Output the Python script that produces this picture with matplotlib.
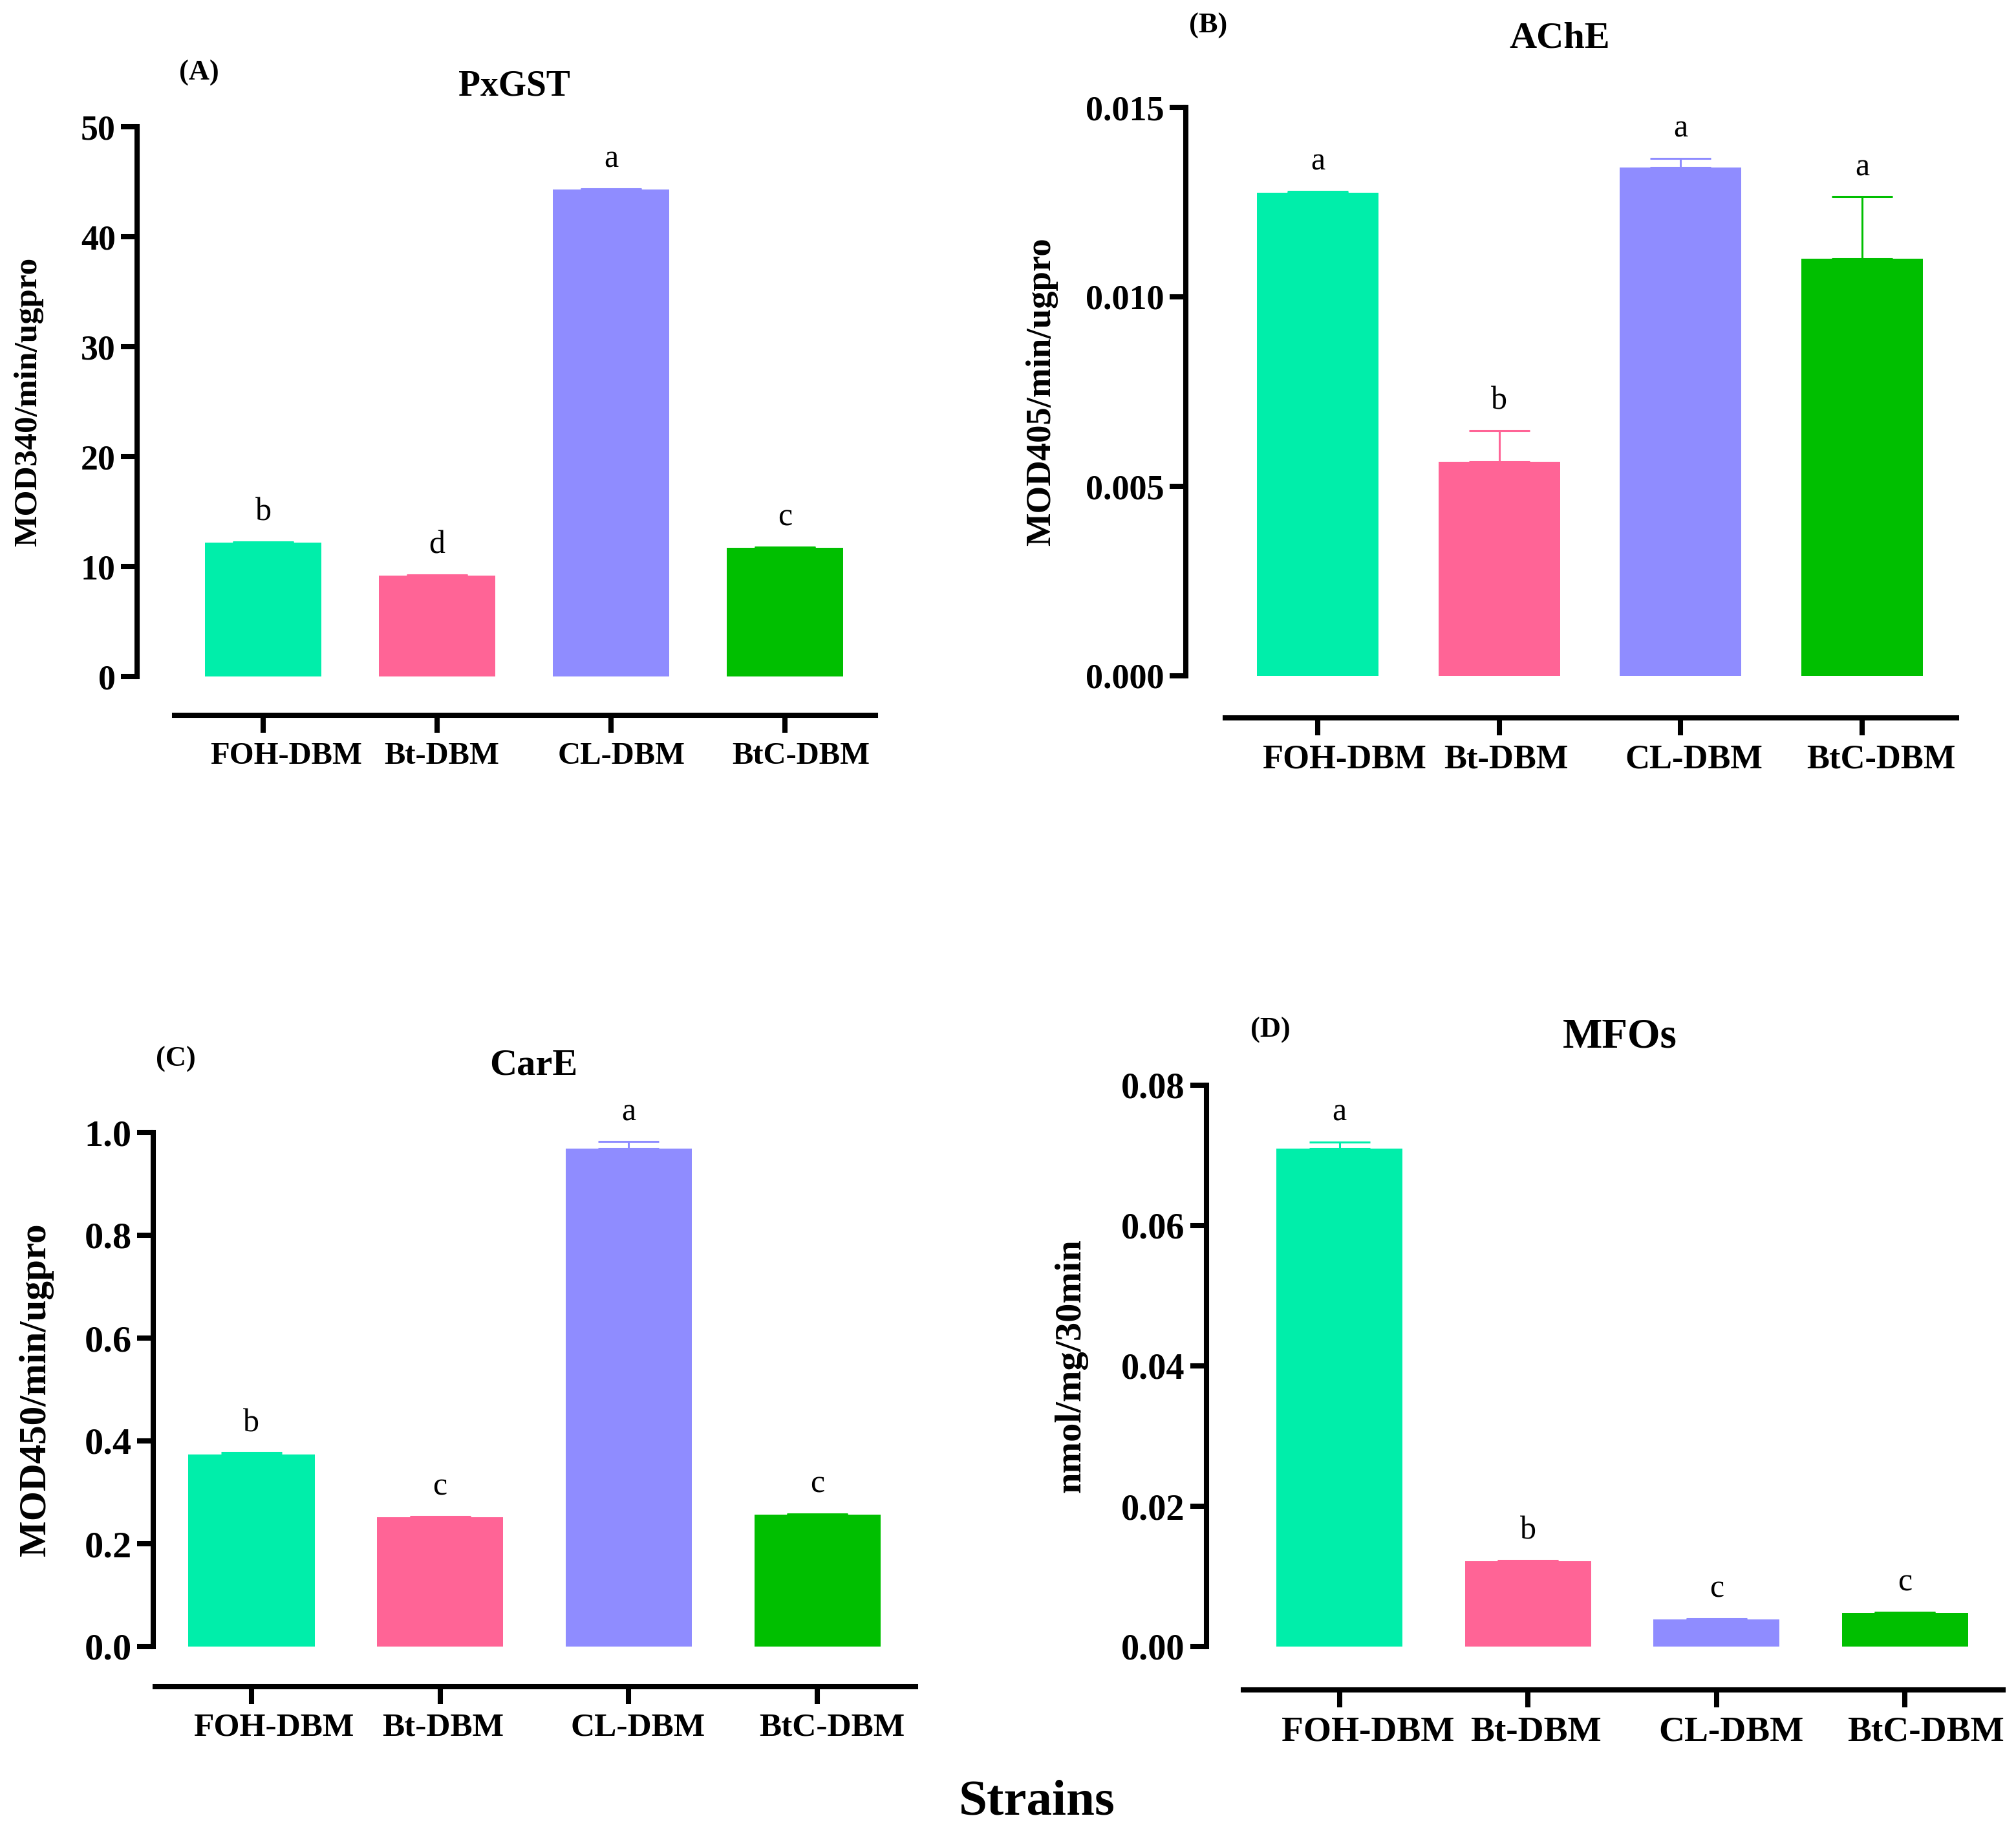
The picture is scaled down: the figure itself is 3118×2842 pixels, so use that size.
import matplotlib.pyplot as plt
import matplotlib.transforms as mtrans
from matplotlib.ticker import FormatStrFormatter

plt.rcParams['font.family'] = ['Liberation Serif', 'DejaVu Serif']

W, H, DPI = 3118, 2842, 200

# Datos
strains = ["FOH-DBM", "Bt-DBM", "CL-DBM", "BtC-DBM"]
colores = ["#00EEAA", "#FF6496", "#8F8CFF", "#00BF00"]

# PxGST
gst_media = [12.2, 9.2, 44.3, 11.7]
gst_error = [0.05, 0.05, 0.08, 0.06]
gst_letras = ["b", "d", "a", "c"]

# AChE
ache_media = [0.01275, 0.00565, 0.01342, 0.0110]
ache_error = [0.00003, 0.00082, 0.00024, 0.00164]
ache_letras = ["a", "b", "a", "a"]

# CarE
care_media = [0.374, 0.251, 0.968, 0.256]
care_error = [0.003, 0.002, 0.014, 0.002]
care_letras = ["b", "c", "a", "c"]

# MFOs
mfo_media = [0.0710, 0.0122, 0.0039, 0.0048]
mfo_error = [0.0009, 0.0001, 0.0001, 0.0001]
mfo_letras = ["a", "b", "c", "c"]

ANCHO = 0.67
XMIN, XMAX = -0.51, 3.52


def pt(px):
    # pixeles a puntos
    return px * 72 / DPI


fig = plt.figure(figsize=(W / DPI, H / DPI), dpi=DPI)


def panel(caja, media, error, letras, yticks, fmt, ylabel, titulo, etiqueta,
          pos_titulo, pos_etiqueta, x_ylabel, fuentes, salida):
    left, top, right, bottom = caja
    f_ytick, f_xtick, f_ylabel, f_titulo = fuentes
    ax = fig.add_axes([left / W, 1 - bottom / H, (right - left) / W, (bottom - top) / H])
    x = list(range(len(strains)))

    ax.bar(x, media, width=ANCHO, color=colores, zorder=2)
    for i in x:
        ax.errorbar(i, media[i], yerr=[[0], [error[i]]], color=colores[i],
                    capsize=17, elinewidth=1.1, capthick=1.1, zorder=3)
        ax.annotate(letras[i], (i, media[i] + error[i]), xytext=(0, 8),
                    textcoords="offset points", ha="center", va="bottom", fontsize=18)

    for s in ["top", "right"]:
        ax.spines[s].set_visible(False)
    ax.spines["left"].set_position(("outward", pt(salida[0])))
    ax.spines["bottom"].set_position(("outward", pt(salida[1])))
    ax.spines["left"].set_linewidth(2.9)
    ax.spines["bottom"].set_linewidth(2.9)
    ax.tick_params(axis="y", length=9, width=2.9, labelsize=f_ytick, pad=3)
    ax.tick_params(axis="x", length=9.7, width=2.9, labelsize=f_xtick, pad=5)

    ax.set_xlim(XMIN, XMAX)
    ax.set_ylim(yticks[0], yticks[-1])
    ax.set_yticks(yticks)
    ax.yaxis.set_major_formatter(FormatStrFormatter(fmt))
    ax.set_xticks(x)
    ax.set_xticklabels(strains, fontsize=f_xtick, fontweight="bold", ha="left")
    for lab in ax.get_yticklabels():
        lab.set_fontweight("bold")

    # las etiquetas del eje x empiezan en el borde izquierdo de cada barra
    paso = (right - left) / (XMAX - XMIN)
    corrimiento = mtrans.ScaledTranslation((-ANCHO / 2 * paso + 8) / DPI, 0, fig.dpi_scale_trans)
    for lab in ax.get_xticklabels():
        lab.set_transform(lab.get_transform() + corrimiento)

    fig.text(x_ylabel / W, 1 - (top + bottom) / 2 / H, ylabel, rotation=90,
             ha="center", va="center", fontsize=f_ylabel, fontweight="bold")
    fig.text(pos_titulo[0] / W, 1 - pos_titulo[1] / H, titulo, ha="center", va="center",
             fontsize=f_titulo, fontweight="bold")
    fig.text(pos_etiqueta[0] / W, 1 - pos_etiqueta[1] / H, etiqueta, ha="center", va="center",
             fontsize=16, fontweight="bold")
    return ax


panel((270, 196, 1354, 1046), gst_media, gst_error, gst_letras,
      [0, 10, 20, 30, 40, 50], "%d", "MOD340/min/ugpro", "PxGST", "(A)",
      (795, 133), (308, 113), 44, (19.4, 17.5, 18.5, 20), (58, 60))

panel((1895, 166, 3026, 1045), ache_media, ache_error, ache_letras,
      [0, 0.005, 0.010, 0.015], "%.3f", "MOD405/min/ugpro", "AChE", "(B)",
      (2412, 60), (1869, 40), 1611, (19.5, 18.9, 19.7, 21), (61, 65))

panel((240, 1751, 1416, 2546), care_media, care_error, care_letras,
      [0, 0.2, 0.4, 0.6, 0.8, 1.0], "%.1f", "MOD450/min/ugpro", "CarE", "(C)",
      (825, 1648), (272, 1638), 56, (21, 18.5, 21.3, 21), (3, 62))

panel((1923, 1678, 3098, 2546), mfo_media, mfo_error, mfo_letras,
      [0, 0.02, 0.04, 0.06, 0.08], "%.2f", "nmol/mg/30min", "MFOs", "(D)",
      (2505, 1603), (1965, 1593), 1656, (20.3, 19.9, 21, 23.4), (57, 67))

fig.text(1604 / W, 1 - 2787 / H, "Strains", ha="center", va="center",
         fontsize=28.5, fontweight="bold")

fig.savefig("out.png", dpi=DPI)
